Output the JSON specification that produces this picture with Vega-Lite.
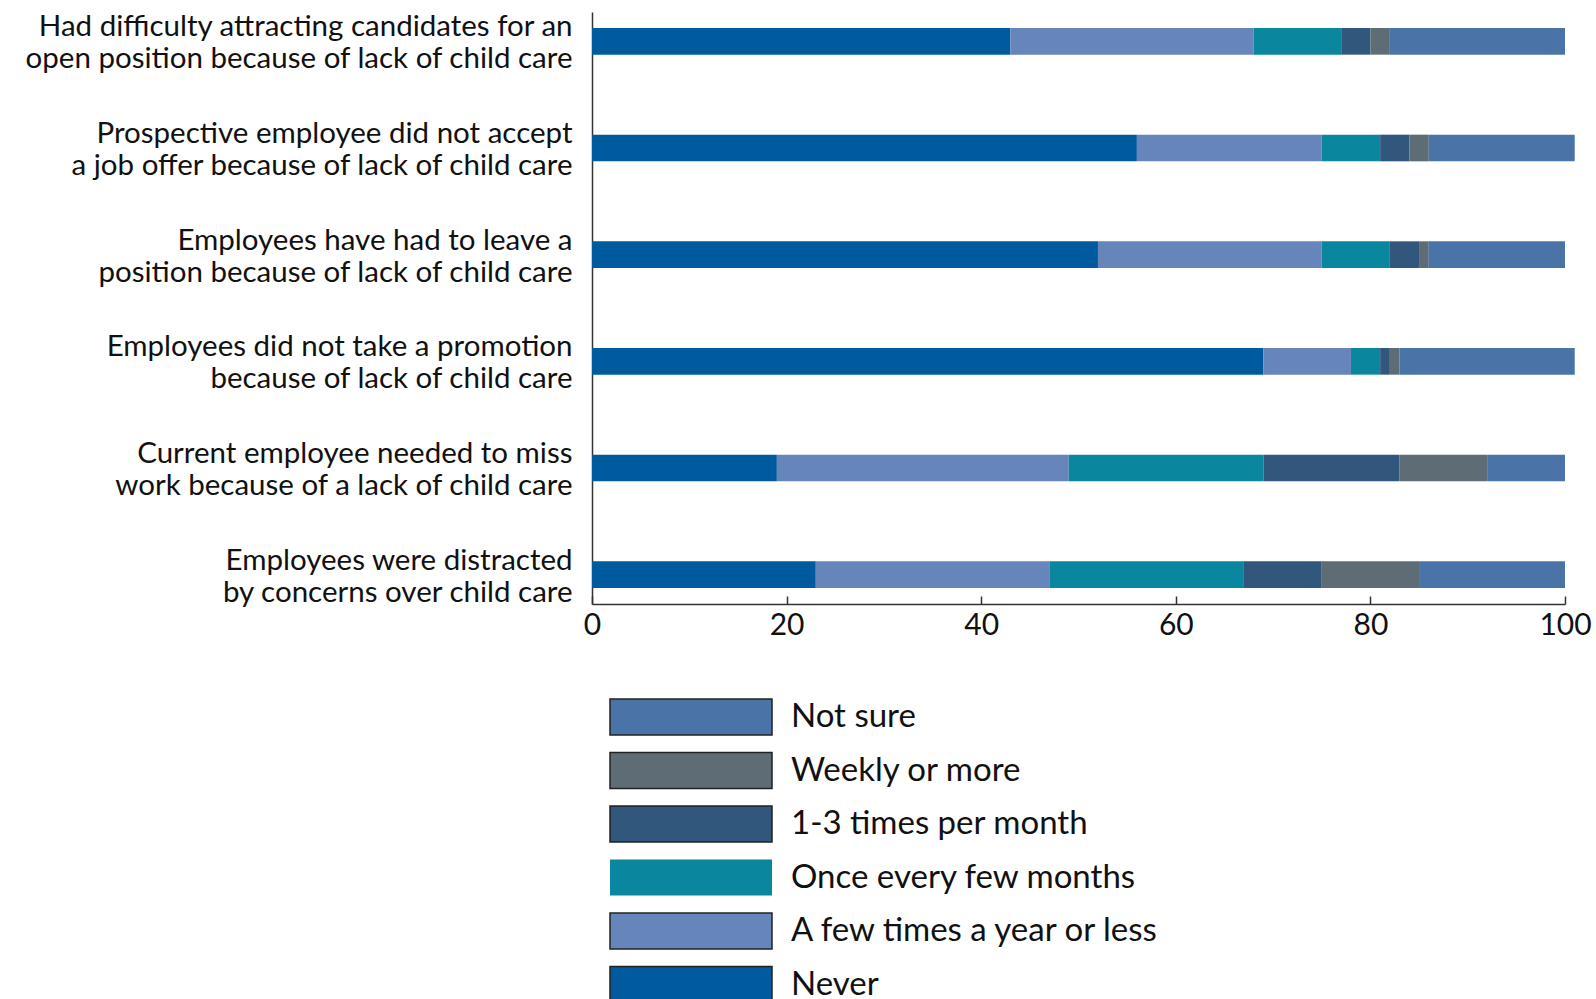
{
  "$schema": "https://vega.github.io/schema/vega-lite/v6.json",
  "autosize": {"type": "none"},
  "padding": {"left": 592, "top": 12, "right": 31, "bottom": 395},
  "width": 973,
  "height": 592,
  "background": "white",
  "config": {
    "view": {"stroke": null},
    "font": "Lato"
  },
  "datasets": {
    "freqOrder": [
      {"freq": "Never", "rank": 1},
      {"freq": "A few times a year or less", "rank": 2},
      {"freq": "Once every few months", "rank": 3},
      {"freq": "1-3 times per month", "rank": 4},
      {"freq": "Weekly or more", "rank": 5},
      {"freq": "Not sure", "rank": 6}
    ]
  },
  "data": {
    "values": [
      {"q": "Had difficulty attracting candidates for an|open position because of lack of child care", "freq": "Never", "pct": 43},
      {"q": "Had difficulty attracting candidates for an|open position because of lack of child care", "freq": "A few times a year or less", "pct": 25},
      {"q": "Had difficulty attracting candidates for an|open position because of lack of child care", "freq": "Once every few months", "pct": 9},
      {"q": "Had difficulty attracting candidates for an|open position because of lack of child care", "freq": "1-3 times per month", "pct": 3},
      {"q": "Had difficulty attracting candidates for an|open position because of lack of child care", "freq": "Weekly or more", "pct": 2},
      {"q": "Had difficulty attracting candidates for an|open position because of lack of child care", "freq": "Not sure", "pct": 18},
      {"q": "Prospective employee did not accept|a job offer because of lack of child care", "freq": "Never", "pct": 56},
      {"q": "Prospective employee did not accept|a job offer because of lack of child care", "freq": "A few times a year or less", "pct": 19},
      {"q": "Prospective employee did not accept|a job offer because of lack of child care", "freq": "Once every few months", "pct": 6},
      {"q": "Prospective employee did not accept|a job offer because of lack of child care", "freq": "1-3 times per month", "pct": 3},
      {"q": "Prospective employee did not accept|a job offer because of lack of child care", "freq": "Weekly or more", "pct": 2},
      {"q": "Prospective employee did not accept|a job offer because of lack of child care", "freq": "Not sure", "pct": 15},
      {"q": "Employees have had to leave a|position because of lack of child care", "freq": "Never", "pct": 52},
      {"q": "Employees have had to leave a|position because of lack of child care", "freq": "A few times a year or less", "pct": 23},
      {"q": "Employees have had to leave a|position because of lack of child care", "freq": "Once every few months", "pct": 7},
      {"q": "Employees have had to leave a|position because of lack of child care", "freq": "1-3 times per month", "pct": 3},
      {"q": "Employees have had to leave a|position because of lack of child care", "freq": "Weekly or more", "pct": 1},
      {"q": "Employees have had to leave a|position because of lack of child care", "freq": "Not sure", "pct": 14},
      {"q": "Employees did not take a promotion|because of lack of child care", "freq": "Never", "pct": 69},
      {"q": "Employees did not take a promotion|because of lack of child care", "freq": "A few times a year or less", "pct": 9},
      {"q": "Employees did not take a promotion|because of lack of child care", "freq": "Once every few months", "pct": 3},
      {"q": "Employees did not take a promotion|because of lack of child care", "freq": "1-3 times per month", "pct": 1},
      {"q": "Employees did not take a promotion|because of lack of child care", "freq": "Weekly or more", "pct": 1},
      {"q": "Employees did not take a promotion|because of lack of child care", "freq": "Not sure", "pct": 18},
      {"q": "Current employee needed to miss|work because of a lack of child care", "freq": "Never", "pct": 19},
      {"q": "Current employee needed to miss|work because of a lack of child care", "freq": "A few times a year or less", "pct": 30},
      {"q": "Current employee needed to miss|work because of a lack of child care", "freq": "Once every few months", "pct": 20},
      {"q": "Current employee needed to miss|work because of a lack of child care", "freq": "1-3 times per month", "pct": 14},
      {"q": "Current employee needed to miss|work because of a lack of child care", "freq": "Weekly or more", "pct": 9},
      {"q": "Current employee needed to miss|work because of a lack of child care", "freq": "Not sure", "pct": 8},
      {"q": "Employees were distracted|by concerns over child care", "freq": "Never", "pct": 23},
      {"q": "Employees were distracted|by concerns over child care", "freq": "A few times a year or less", "pct": 24},
      {"q": "Employees were distracted|by concerns over child care", "freq": "Once every few months", "pct": 20},
      {"q": "Employees were distracted|by concerns over child care", "freq": "1-3 times per month", "pct": 8},
      {"q": "Employees were distracted|by concerns over child care", "freq": "Weekly or more", "pct": 10},
      {"q": "Employees were distracted|by concerns over child care", "freq": "Not sure", "pct": 15}
    ]
  },
  "transform": [
    {"lookup": "freq", "from": {"data": {"name": "freqOrder"}, "key": "freq", "fields": ["rank"]}}
  ],
  "mark": {"type": "bar"},
  "encoding": {
    "y": {
      "field": "q",
      "type": "nominal",
      "sort": null,
      "scale": {"paddingInner": 0.75, "paddingOuter": 0.15},
      "axis": {
        "title": null,
        "labelExpr": "split(datum.label, '|')",
        "labelFontSize": 29.5,
        "labelLineHeight": 32,
        "labelColor": "#111",
        "labelPadding": 20,
        "labelLimit": 700,
        "labelOffset": -14,
        "ticks": false,
        "domainColor": "#333",
        "domainWidth": 1.5
      }
    },
    "x": {
      "field": "pct",
      "type": "quantitative",
      "stack": "zero",
      "scale": {"domain": [0, 100], "nice": false},
      "axis": {
        "title": null,
        "values": [0, 20, 40, 60, 80, 100],
        "grid": false,
        "tickSize": -8,
        "tickColor": "#333",
        "tickWidth": 1.5,
        "domainColor": "#333",
        "domainWidth": 1.5,
        "labelFontSize": 30,
        "labelColor": "#111",
        "labelPadding": 14,
        "labelFlush": false
      }
    },
    "order": {"field": "rank", "type": "quantitative", "sort": "ascending"},
    "color": {
      "field": "freq",
      "type": "nominal",
      "scale": {
        "domain": ["Never", "A few times a year or less", "Once every few months", "1-3 times per month", "Weekly or more", "Not sure"],
        "range": ["#005a9e", "#6685ba", "#0a879e", "#32577d", "#5e6c76", "#4a74a7"]
      },
      "legend": {
        "title": null,
        "orient": "none",
        "direction": "vertical",
        "legendX": 80,
        "legendY": 686,
        "values": ["Not sure", "Weekly or more", "1-3 times per month", "Once every few months", "A few times a year or less", "Never"],
        "symbolType": "M-4.5,-1H4.5V1H-4.5Z",
        "symbolSize": 1296,
        "symbolOpacity": 1,
        "symbolStrokeColor": "#222",
        "symbolStrokeWidth": 1.5,
        "labelFontSize": 33,
        "labelColor": "#111",
        "labelOffset": 81,
        "labelLimit": 600,
        "rowPadding": 11.5,
        "padding": 0,
        "encode": {
          "symbols": {
            "update": {
              "stroke": {"signal": "datum.value === 'Once every few months' ? 'transparent' : '#222'"}
            }
          }
        }
      }
    }
  }
}
